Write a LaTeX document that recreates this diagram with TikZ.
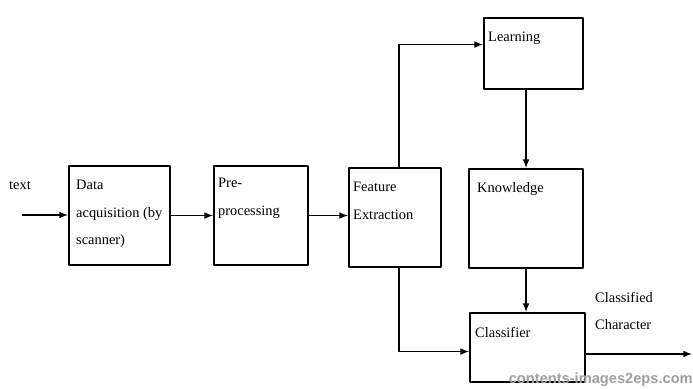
\documentclass[tikz,border=0pt]{standalone}
\usepackage{fontspec}
\setmainfont{Liberation Serif}
\newfontfamily\wmfont{Liberation Sans}
\usetikzlibrary{calc}

\begin{document}
\begin{tikzpicture}[
        x=0.03cm,
        y=-0.03cm,
        line join=round,
        font=\fontsize{12.3}{23.5}\selectfont,
        % 方框样式
        blk/.style 2 args={draw, line width=1.8pt, anchor=north west, inner sep=0pt,
            minimum width=#1*0.03cm, minimum height=#2*0.03cm},
        txt/.style={anchor=north west, inner sep=0pt, align=left},
        arr/.style={-latex, line width=1.5pt},
    ]
    \useasboundingbox (0,0) rectangle (693,388);

    % 各个方框
    \node[blk={101}{99}] (acq)   at (68,165)  {};
    \node[blk={94}{99}]  (pre)   at (213,165) {};
    \node[blk={92}{99}]  (feat)  at (348,167) {};
    \node[blk={99}{71}]  (learn) at (483,17)  {};
    \node[blk={114}{99}] (know)  at (468,168) {};
    \node[blk={115}{69}] (cls)   at (469,312) {};

    % 方框文字
    \node[txt] (acqT)   at ($(acq.north west)+(8,15)$)   {Data\\acquisition (by\\scanner)};
    \node[txt] (preT)   at ($(pre.north west)+(5,13)$)   {Pre-\\processing};
    \node[txt] (featT)  at ($(feat.north west)+(5,15)$)  {Feature\\Extraction};
    \node[txt] (learnT) at ($(learn.north west)+(5,15)$) {Learning};
    \node[txt] (knowT)  at ($(know.north west)+(9,14)$)  {Knowledge};
    \node[txt] (clsT)   at ($(cls.north west)+(6,15)$)   {Classifier};

    % 输入输出
    \node[anchor=west, inner sep=0pt] (inT) at (9,186) {text};
    \node[txt] (outT) at (595,292) {Classified\\Character};
    \coordinate (in)  at (22,215);
    \coordinate (out) at (692,354);

    % 连线
    \draw[arr] (in) -- (in -| acq.west);
    \draw[arr] (acq) -- (pre);
    \draw[arr] (pre.east) -- (pre.east -| feat.west);
    \draw[arr] ($(feat.north)+(4,0)$) |- ($(learn.west)+(0,-9)$);
    \draw[arr] (learn.south -| know.north) -- (know.north);
    \draw[arr] (know.south) -- (know.south |- cls.north);
    \draw[arr] ($(feat.south)+(4,0)$) |- ($(cls.west)+(0,4)$);
    \draw[arr] (cls.east |- out) -- (out);

    % 水印
    \node[anchor=south east, inner sep=0pt, text=gray!75,
        font=\wmfont\bfseries\fontsize{12.5}{14}\selectfont] (wm) at (693,387) {contents-images2eps.com};
\end{tikzpicture}
\end{document}
